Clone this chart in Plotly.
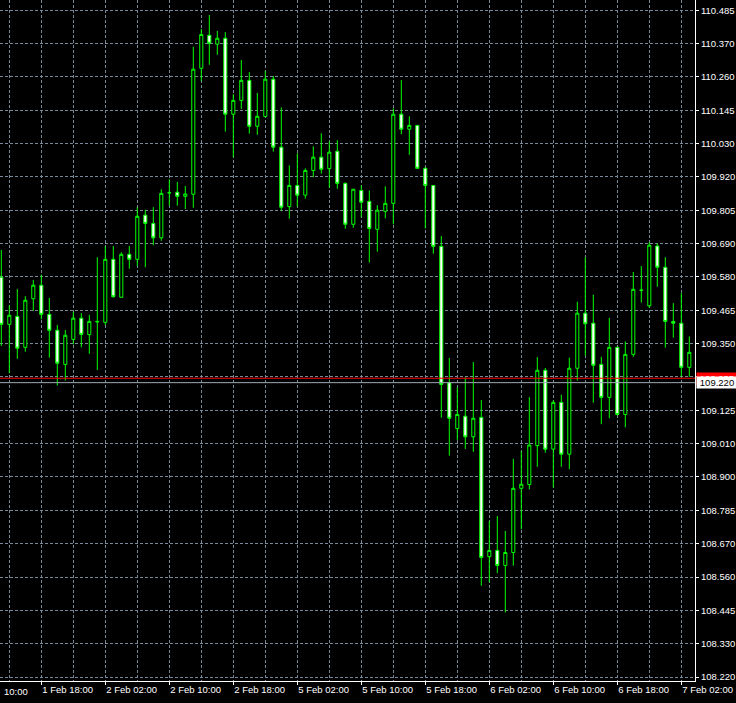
import plotly.graph_objects as go

# ---- data (hourly candles, index 0 = 1 Feb 13:00) ----
opens = [109.578, 109.418, 109.445, 109.340, 109.505, 109.551, 109.452, 109.398, 109.282, 109.367,
         109.439, 109.383, 109.426, 109.425, 109.639, 109.510, 109.656, 109.639, 109.789, 109.761,
         109.712, 109.865, 109.867, 109.853, 109.860, 110.288, 110.400, 110.370, 110.390, 110.132,
         110.179, 110.247, 110.091, 110.124, 110.251, 110.020, 109.818, 109.890, 109.857, 109.941,
         109.986, 109.947, 110.006, 109.897, 109.758, 109.873, 109.836, 109.741, 109.802, 109.829,
         110.132, 110.081, 110.094, 109.948, 109.890, 109.683, 109.220, 109.064, 109.106, 109.036,
         109.102, 108.629, 108.650, 108.599, 108.643, 108.861, 108.874, 109.006, 109.262, 108.994,
         109.153, 108.977, 109.269, 109.456, 109.422, 109.282, 109.170, 109.340, 109.112, 109.316,
         109.534, 109.481, 109.684, 109.612, 109.428, 109.422, 109.272]
highs = [109.671, 109.483, 109.538, 109.514, 109.569, 109.587, 109.508, 109.416, 109.399, 109.461,
         109.456, 109.450, 109.646, 109.684, 109.684, 109.663, 109.684, 109.816, 109.807, 109.816,
         109.877, 109.911, 109.902, 109.888, 110.361, 110.421, 110.469, 110.415, 110.411, 110.200,
         110.316, 110.275, 110.204, 110.279, 110.262, 110.155, 109.958, 109.999, 109.948, 110.023,
         110.067, 110.040, 110.044, 109.900, 109.878, 109.890, 109.873, 109.823, 109.887, 110.152,
         110.248, 110.125, 110.095, 109.952, 109.890, 109.718, 109.304, 109.204, 109.238, 109.290,
         109.161, 108.750, 108.767, 108.716, 108.961, 108.988, 109.171, 109.307, 109.270, 109.160,
         109.179, 109.305, 109.495, 109.646, 109.519, 109.308, 109.440, 109.341, 109.360, 109.596,
         109.616, 109.697, 109.693, 109.646, 109.490, 109.524, 109.377]
lows = [109.345, 109.252, 109.301, 109.325, 109.464, 109.435, 109.305, 109.210, 109.227, 109.350,
        109.340, 109.318, 109.263, 109.416, 109.509, 109.510, 109.607, 109.616, 109.612, 109.687,
        109.702, 109.821, 109.821, 109.810, 109.814, 110.244, 110.300, 110.334, 110.073, 109.986,
        110.150, 110.066, 110.062, 110.124, 110.005, 109.804, 109.777, 109.818, 109.845, 109.918,
        109.930, 109.882, 109.879, 109.743, 109.746, 109.782, 109.628, 109.665, 109.778, 109.758,
        110.064, 109.994, 109.947, 109.744, 109.658, 109.101, 108.972, 109.025, 108.995, 108.985,
        108.530, 108.542, 108.573, 108.439, 108.598, 108.722, 108.857, 108.934, 108.982, 108.864,
        108.934, 108.926, 109.227, 109.312, 109.152, 109.079, 109.099, 109.109, 109.068, 109.308,
        109.492, 109.475, 109.546, 109.339, 109.373, 109.240, 109.240]
closes = [109.418, 109.449, 109.337, 109.500, 109.551, 109.452, 109.398, 109.286, 109.381, 109.439,
          109.384, 109.428, 109.428, 109.639, 109.512, 109.656, 109.639, 109.785, 109.761, 109.712,
          109.863, 109.865, 109.853, 109.861, 110.285, 110.403, 110.373, 110.390, 110.132, 110.179,
          110.247, 110.091, 110.125, 110.251, 110.020, 109.816, 109.890, 109.857, 109.941, 109.986,
          109.945, 110.003, 109.897, 109.758, 109.877, 109.833, 109.744, 109.806, 109.829, 110.132,
          110.081, 110.094, 109.948, 109.890, 109.683, 109.214, 109.099, 109.112, 109.036, 109.099,
          108.626, 108.650, 108.599, 108.643, 108.861, 108.875, 109.008, 109.262, 108.994, 109.153,
          108.977, 109.269, 109.456, 109.420, 109.279, 109.170, 109.340, 109.112, 109.316, 109.537,
          109.534, 109.687, 109.612, 109.428, 109.422, 109.272, 109.323]

time_label_idx = [5, 13, 21, 29, 37, 45, 53, 61, 69, 77, 85]
time_labels = ["1 Feb 18:00", "2 Feb 02:00", "2 Feb 10:00", "2 Feb 18:00", "5 Feb 02:00",
               "5 Feb 10:00", "5 Feb 18:00", "6 Feb 02:00", "6 Feb 10:00", "6 Feb 18:00",
               "7 Feb 02:00"]
edge_label = "10:00"   # tail of the "1 Feb 10:00" label at the left edge

price_labels = ["108.220", "108.330", "108.445", "108.560", "108.670", "108.785", "108.900",
                "109.010", "109.125", "109.240", "109.350", "109.465", "109.580", "109.690",
                "109.805", "109.920", "110.030", "110.145", "110.260", "110.370", "110.485"]
grid_low, grid_high = 108.220, 110.485
bid_price = 109.220
ask_price = 109.235

# ---- styling ----
FONT = "Liberation Sans"
FSIZE = 9.5
GRID = "#778899"
GREEN = "#00ff00"

n = len(opens)
x = list(range(n))
step = (grid_high - grid_low) / (len(price_labels) - 1)
price_ticks = [grid_low + k * step for k in range(len(price_labels))]
minor_x = [v - 4 for v in time_label_idx] + [time_label_idx[-1] + 4]

x_lo = -1.3 / 8
x_hi = x_lo + 695 / 8
y_hi = grid_high + 10.3 * step / 33.335
y_lo = y_hi - 681 * step / 33.335

fig = go.Figure()
fig.add_trace(go.Candlestick(
    x=x, open=opens, high=highs, low=lows, close=closes,
    increasing=dict(line=dict(color=GREEN, width=1), fillcolor="#000000"),
    decreasing=dict(line=dict(color=GREEN, width=1), fillcolor="#ffffff"),
    whiskerwidth=0, showlegend=False, hoverinfo="skip",
))

fig.add_hline(y=bid_price, line=dict(color="#a0a8b4", width=1))
fig.add_hline(y=ask_price, line=dict(color="#ff0000", width=1))

fig.add_annotation(x=1, xref="paper", y=ask_price, yref="y", xanchor="left", yanchor="middle",
                   text=f"{ask_price:.3f}", showarrow=False, bgcolor="#ff0000",
                   font=dict(family=FONT, size=FSIZE, color="#ffffff"), width=40, height=11,
                   borderpad=0, xshift=1)
fig.add_annotation(x=1, xref="paper", y=bid_price, yref="y", xanchor="left", yanchor="middle",
                   text=f"{bid_price:.3f}", showarrow=False, bgcolor="#ffffff",
                   font=dict(family=FONT, size=FSIZE, color="#000000"), width=40, height=11,
                   borderpad=0, xshift=1)
fig.add_annotation(x=0, xref="paper", y=0, yref="paper",
                   xanchor="left", yanchor="top", text=edge_label, showarrow=False,
                   yshift=-3, xshift=2, font=dict(family=FONT, size=FSIZE, color="#ffffff"))

fig.update_layout(
    width=736, height=703,
    margin=dict(l=0, r=41, t=0, b=22, autoexpand=False),
    paper_bgcolor="#000000", plot_bgcolor="#000000",
    font=dict(family=FONT, size=FSIZE, color="#ffffff"),
    xaxis=dict(
        range=[x_lo, x_hi], rangeslider=dict(visible=False), automargin=False,
        tickmode="array", tickvals=time_label_idx, ticktext=time_labels,
        ticks="outside", ticklen=3, tickcolor="#ffffff", ticklabelposition="outside right",
        showline=True, linecolor="#ffffff", linewidth=1,
        showgrid=True, gridcolor=GRID, griddash="3px,2px", gridwidth=1,
        minor=dict(tickvals=minor_x, showgrid=True, gridcolor=GRID, griddash="3px,2px",
                   gridwidth=1, ticks=""),
        zeroline=False, tickfont=dict(family=FONT, size=FSIZE, color="#ffffff"),
    ),
    yaxis=dict(
        side="right", range=[y_lo, y_hi], automargin=False,
        tickmode="array", tickvals=price_ticks, ticktext=price_labels,
        ticks="outside", ticklen=3, tickcolor="#ffffff",
        showline=True, linecolor="#ffffff", linewidth=1,
        showgrid=True, gridcolor=GRID, griddash="3px,2px", gridwidth=1,
        zeroline=False, tickfont=dict(family=FONT, size=FSIZE, color="#ffffff"),
    ),
    boxgap=0.45,
)

fig.write_html("out.html", config={"displayModeBar": False},
               post_script="document.body.style.margin='0';document.body.style.background='#000';")
